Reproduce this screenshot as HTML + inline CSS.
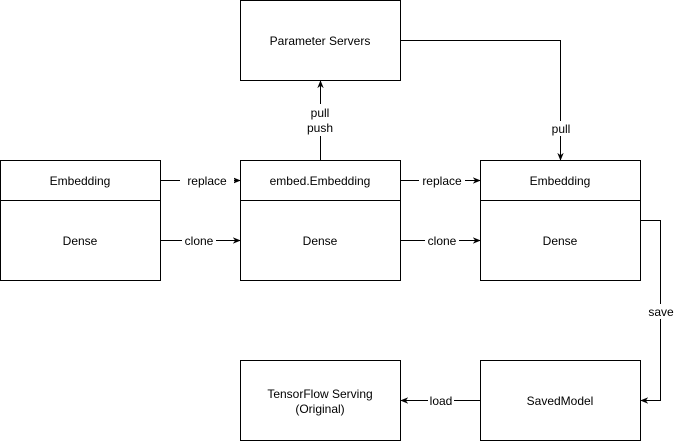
<!DOCTYPE html>
<html><head><style>body{margin:0;background:#fff}svg{display:block}text{font-family:"Liberation Sans",Arial,sans-serif;font-size:12px;fill:#000}</style></head>
<body>
<svg width="674" height="441" viewBox="0 0 674 441" xmlns="http://www.w3.org/2000/svg">
<defs><marker id="a" viewBox="0 0 10 10" refX="9" refY="5" markerWidth="8" markerHeight="8" orient="auto" markerUnits="userSpaceOnUse"><path d="M0,1 L10,5 L0,9 L3,5 Z" fill="#000"/></marker></defs>
<g fill="#fff" stroke="#000" stroke-width="1">
<rect x="240.5" y="0.5" width="160" height="80"/>
<rect x="0.5" y="160.5" width="160" height="120"/><line x1="0.5" y1="200.5" x2="160.5" y2="200.5"/>
<rect x="240.5" y="160.5" width="160" height="120"/><line x1="240.5" y1="200.5" x2="400.5" y2="200.5"/>
<rect x="480.5" y="160.5" width="160" height="120"/><line x1="480.5" y1="200.5" x2="640.5" y2="200.5"/>
<rect x="480.5" y="360.5" width="160" height="80"/>
<rect x="240.5" y="360.5" width="160" height="80"/>
</g>
<g fill="none" stroke="#000" stroke-width="1" marker-end="url(#a)">
<line x1="160.5" y1="180.5" x2="240" y2="180.5"/>
<line x1="160.5" y1="240.5" x2="240" y2="240.5"/>
<line x1="400.5" y1="180.5" x2="480" y2="180.5"/>
<line x1="400.5" y1="240.5" x2="480" y2="240.5"/>
<line x1="320.5" y1="160" x2="320.5" y2="81"/>
<polyline points="400.5,40.5 560.5,40.5 560.5,160"/>
<polyline points="640.5,220.5 660.5,220.5 660.5,400.5 641,400.5"/>
<line x1="480" y1="400.5" x2="401" y2="400.5"/>
</g>
<g fill="#fff">
<rect x="180" y="173" width="54" height="15"/><rect x="182" y="233" width="34" height="15"/>
<rect x="419" y="173" width="46" height="15"/><rect x="425" y="233" width="34" height="15"/>
<rect x="306" y="104" width="30" height="32"/><rect x="549" y="121" width="24" height="15"/>
<rect x="647" y="304" width="28" height="15"/><rect x="428" y="393" width="26" height="15"/>
</g>
<g text-anchor="middle">
<text x="320" y="45">Parameter Servers</text>
<text x="80" y="185">Embedding</text><text x="80" y="245">Dense</text>
<text x="320" y="185">embed.Embedding</text><text x="320" y="245">Dense</text>
<text x="560" y="185">Embedding</text><text x="560" y="245">Dense</text>
<text x="560" y="405">SavedModel</text>
<text x="320" y="398">TensorFlow Serving</text><text x="320" y="413">(Original)</text>
<text x="207" y="185">replace</text><text x="199" y="245">clone</text>
<text x="442" y="185">replace</text><text x="442" y="245">clone</text>
<text x="320" y="117">pull</text><text x="320" y="132">push</text>
<text x="561" y="133">pull</text><text x="661" y="316">save</text>
<text x="441" y="405">load</text>
</g>
</svg>
</body></html>
